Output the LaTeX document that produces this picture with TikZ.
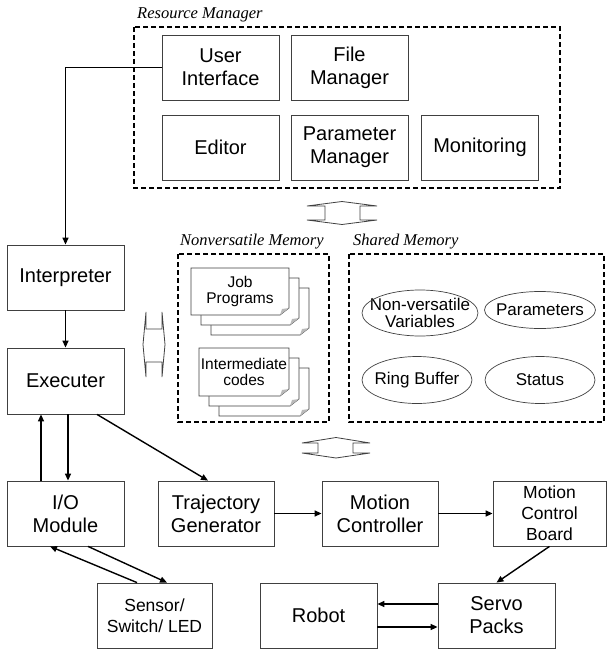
\documentclass[tikz,border=0pt]{standalone}
\usepackage{fontspec}
\setmainfont{Liberation Sans}
\newfontfamily\capfont{Liberation Serif}
\usetikzlibrary{arrows.meta}

% one sheet of a stacked document, top-left corner at (#1,#2)
\newcommand{\docpage}[4]{%
  \filldraw[draw=black!75, line width=0.7pt, fill=white]
    (#1,#2) -- ++(#3,0) -- ++(0,{#4-7}) -- ++(-9,7) -- ++({9-#3},0) -- cycle;
  \fill[gray!55] ({#1+#3},{#2+#4-7}) -- ++(-9,7) -- ++(2,-6) -- cycle;
}

\begin{document}
\begin{tikzpicture}[x=1pt, y=-1pt,
    box/.style={draw=black!75, line width=0.8pt, align=center, inner sep=1pt,
      minimum width=117pt, minimum height=65pt, font=\fontsize{20}{23}\selectfont},
    smallbox/.style={box, font=\fontsize{17.5}{21}\selectfont},
    ovaltext/.style={align=center, inner sep=0pt, font=\fontsize{17}{17.5}\selectfont},
    doctext/.style={align=center, inner sep=0pt, font=\fontsize{15.5}{16.5}\selectfont},
    group/.style={line width=1.8pt, dash pattern=on 5pt off 3pt},
    caption/.style={anchor=base west, inner sep=0pt, font=\capfont\itshape\fontsize{16.5}{16.5}\selectfont},
    arr/.style={-{Triangle[length=7pt,width=6pt]}, line width=1.4pt},
    blockarrow/.style={draw=black!75, line width=0.8pt}]
    \useasboundingbox (0,0) rectangle (607,650);

    % resource manager
    \draw[group] (134,27) rectangle (560,188);
    \node[caption] (rmcap) at (137,19) {Resource Manager};
    \node[box] (ui) at (220.5,67.5) {User\\Interface};
    \node[box] (filem) at (349.5,67.5) {File\\Manager};
    \node[box] (editor) at (220.5,147.5) {Editor};
    \node[box] (paramm) at (349.5,147.5) {Parameter\\Manager};
    \node[box] (monitor) at (480,147.5) {Monitoring};

    % block arrows
    \draw[blockarrow] (325,206) -- (307,206) -- (342,201.5) -- (377,206) -- (360,206)
      -- (360,220) -- (377,220) -- (342,224.5) -- (307,220) -- (325,220) -- cycle;
    \draw[blockarrow] (146,329) -- (146,312) -- (143,344.5) -- (146,377) -- (146,362)
      -- (162,362) -- (162,377) -- (165,344.5) -- (162,312) -- (162,329) -- cycle;
    \draw[blockarrow] (318,443) -- (302,443) -- (336,437.5) -- (370,443) -- (353,443)
      -- (353,453) -- (370,453) -- (336,458) -- (302,453) -- (318,453) -- cycle;

    % nonversatile memory
    \draw[group] (178,254) rectangle (329,422);
    \node[caption] (nvcap) at (180,245) {Nonversatile Memory};
    \foreach \d in {20,10,0} {
      \docpage{191+\d}{268+\d}{98}{47}
      \docpage{199+\d}{348+\d}{90}{48}
    }
    \node[doctext] (job) at (240,291.5) {Job\\Programs};
    \node[doctext] (icode) at (244,372) {Intermediate\\codes};

    % shared memory
    \draw[group] (349,254) rectangle (604,422);
    \node[caption] (smcap) at (353,245) {Shared Memory};
    \node[ovaltext] (nvvar) at (420,313) {Non-versatile\\Variables};
    \node[ovaltext] (params) at (540,310) {Parameters};
    \node[ovaltext] (ringbuf) at (417,380) {Ring Buffer};
    \node[ovaltext] (status) at (540,380) {Status};
    \draw[black!75, line width=0.7pt] (nvvar.center) ellipse [x radius=58pt, y radius=23pt];
    \draw[black!75, line width=0.7pt] (params.center) ellipse [x radius=55.5pt, y radius=18.5pt];
    \draw[black!75, line width=0.7pt] (ringbuf.center) ellipse [x radius=55pt, y radius=23.5pt];
    \draw[black!75, line width=0.7pt] (status.center) ellipse [x radius=55pt, y radius=23.5pt];

    % control chain
    \node[box] (interp) at (65.5,277.5) {Interpreter};
    \node[box, minimum height=66pt] (exec) at (65.5,381) {Executer};
    \node[box] (io) at (65.5,513.5) {I/O\\Module};
    \node[box, minimum width=116pt] (traj) at (216,513.5) {Trajectory\\Generator};
    \node[box, minimum width=116pt] (mctrl) at (380,513.5) {Motion\\Controller};
    \node[smallbox, minimum width=113pt] (mcb) at (549.5,513.5) {Motion\\Control\\Board};
    \node[smallbox, minimum width=115pt] (sensor) at (154.5,615.5) {Sensor/\\Switch/ LED};
    \node[box] (robot) at (318.5,615.5) {Robot};
    \node[box] (servo) at (496.5,615.5) {Servo\\Packs};

    % connectors
    \draw[arr] (ui.west) -| (interp.north);
    \draw[arr] (interp) -- (exec);
    \draw[arr] ([xshift=2.5pt]exec.south) -- ([xshift=2.5pt]io.north);
    \draw[arr] ([xshift=-24.5pt]io.north) -- ([xshift=-24.5pt]exec.south);
    \draw[arr] ([xshift=31.5pt]exec.south) -- ([xshift=-8pt]traj.north);
    \draw[arr] (traj) -- (mctrl);
    \draw[arr] (mctrl) -- (mcb);
    \draw[arr] (mcb.south) -- (servo.north);
    \draw[arr] ([yshift=11.5pt]servo.west) -- ([yshift=11.5pt]robot.east);
    \draw[arr] ([yshift=-11.5pt]robot.east) -- ([yshift=-11.5pt]servo.west);
    \draw[arr] ([xshift=22.5pt]io.south) -- ([xshift=12.5pt]sensor.north);
    \draw[arr] ([xshift=-17.5pt]sensor.north) -- ([xshift=-15.5pt]io.south);
\end{tikzpicture}
\end{document}
